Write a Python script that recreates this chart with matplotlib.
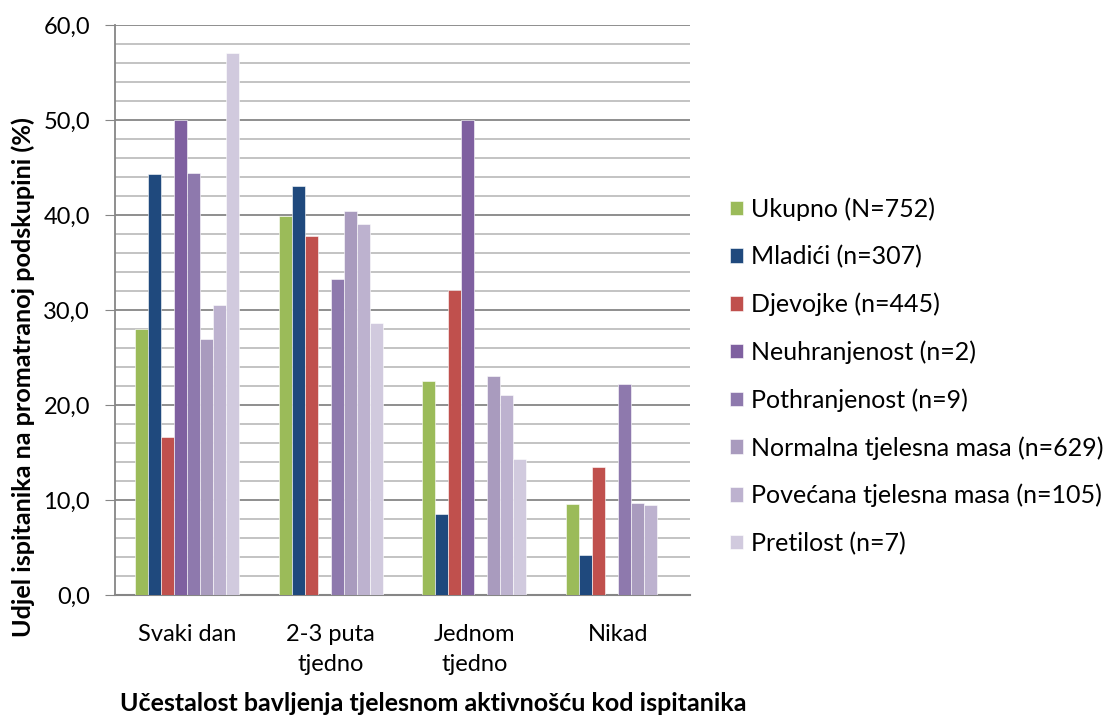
import matplotlib
matplotlib.use("Agg")
import matplotlib.pyplot as plt
import numpy as np

plt.rcParams['font.family'] = ['Lato', 'DejaVu Sans']

categories = ['Svaki dan', '2-3 puta\ntjedno', 'Jednom\ntjedno', 'Nikad']

series_names = ['Ukupno (N=752)', 'Mladići (n=307)', 'Djevojke (n=445)',
                'Neuhranjenost (n=2)', 'Pothranjenost (n=9)',
                'Normalna tjelesna masa (n=629)', 'Povećana tjelesna masa (n=105)',
                'Pretilost (n=7)']

ukupno = [28.0, 39.9, 22.5, 9.6]
mladici = [44.3, 43.0, 8.5, 4.2]
djevojke = [16.6, 37.8, 32.1, 13.5]
neuhranjenost = [50.0, 0.0, 50.0, 0.0]
pothranjenost = [44.4, 33.3, 0.0, 22.2]
normalna = [26.9, 40.4, 23.0, 9.7]
povecana = [30.5, 39.0, 21.0, 9.5]
pretilost = [57.1, 28.6, 14.3, 0.0]

values = [ukupno, mladici, djevojke, neuhranjenost, pothranjenost,
          normalna, povecana, pretilost]
colors = ['#9BBB59', '#1F497D', '#C0504D', '#7F60A0', '#8E79AD',
          '#A99BBE', '#BDB2CF', '#D1CADE']

fig = plt.figure(figsize=(11.05, 7.15), dpi=100)
ax = fig.add_axes([0.104, 0.168, 0.5205, 0.797])

x = np.arange(len(categories))
width = 0.0905
n = len(values)
for i, (vals, col, name) in enumerate(zip(values, colors, series_names)):
    offs = (i - (n - 1) / 2) * width
    ax.bar(x + offs, vals, width=width, color=col, label=name,
           edgecolor='white', linewidth=0.4, zorder=3)

ax.set_xlim(-0.5, 3.5)
ax.set_ylim(0, 60)
ax.set_yticks(np.arange(0, 61, 10))
ax.set_yticks(np.arange(0, 61, 2), minor=True)
ax.set_yticklabels([f'{v:.1f}'.replace('.', ',') for v in np.arange(0, 61, 10)],
                   fontsize=17)
ax.grid(axis='y', which='major', color='#868686', linewidth=1.3, zorder=0)
ax.grid(axis='y', which='minor', color='#BEBEBE', linewidth=1.3, zorder=0)
ax.set_xticks(x)
ax.set_xticklabels(categories, fontsize=17, linespacing=1.55)
ax.tick_params(axis='x', length=0, pad=21)
ax.tick_params(axis='y', which='major', length=7, color='#868686', pad=11)
ax.tick_params(axis='y', which='minor', length=0)

for s in ['top', 'right']:
    ax.spines[s].set_visible(False)
ax.spines['left'].set_color('#868686')
ax.spines['bottom'].set_color('#868686')
ax.spines['left'].set_linewidth(1.3)
ax.spines['bottom'].set_linewidth(1.5)

ax.set_xlabel('Učestalost bavljenja tjelesnom aktivnošću kod ispitanika',
              fontsize=18, fontweight='bold')
ax.xaxis.set_label_coords(0.553, -0.17)
ax.set_ylabel('Udjel ispitanika na promatranoj podskupini (%)',
              fontsize=18.2, fontweight='bold')
ax.yaxis.set_label_coords(-0.139, 0.383)

ax.legend(loc='center left', bbox_to_anchor=(1.031, 0.384), frameon=False,
          fontsize=18, handlelength=0.52, handleheight=0.52, handletextpad=0.31,
          labelspacing=0.97)

fig.savefig('out.png', dpi=100)
